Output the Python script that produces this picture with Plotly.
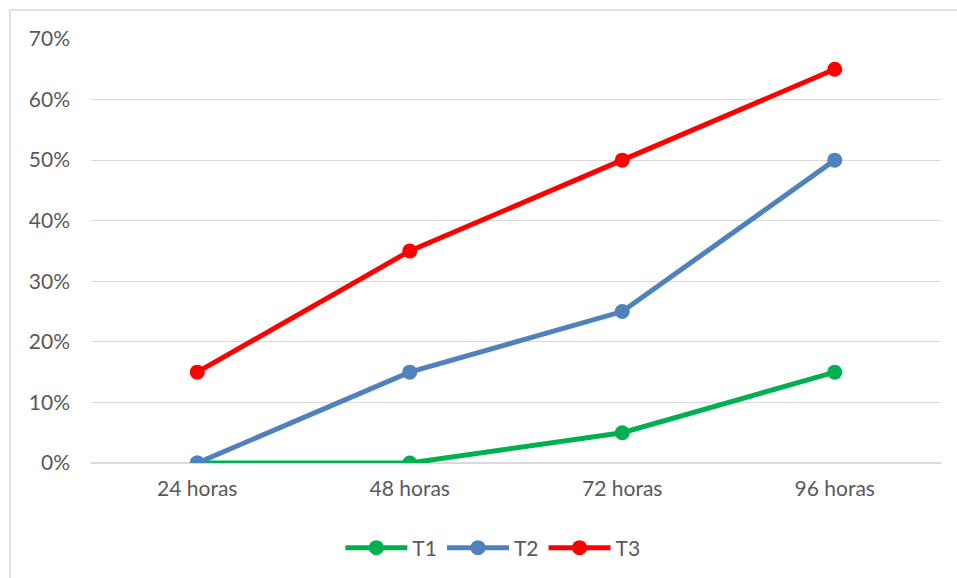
import plotly.graph_objects as go

categories = ["24 horas", "48 horas", "72 horas", "96 horas"]
t1 = [0.00, 0.00, 0.05, 0.15]
t2 = [0.00, 0.15, 0.25, 0.50]
t3 = [0.15, 0.35, 0.50, 0.65]
y_ticks = [0.0, 0.1, 0.2, 0.3, 0.4, 0.5, 0.6, 0.7]

series = [("T1", t1, "#00B050"), ("T2", t2, "#4F81BD"), ("T3", t3, "#FF0000")]

fig = go.Figure()
for name, vals, color in series:
    fig.add_trace(go.Scatter(
        x=categories, y=vals, name=name, mode="lines+markers",
        line=dict(color=color, width=5),
        marker=dict(color=color, size=15),
    ))

text_color = "#595959"
font_family = "Lato, 'Open Sans', sans-serif"
fig.update_layout(
    width=957, height=578,
    margin=dict(l=91, r=16, t=39, b=115, autoexpand=False),
    paper_bgcolor="white", plot_bgcolor="white",
    font=dict(family=font_family, size=21, color=text_color),
    showlegend=True,
    legend=dict(orientation="h", xref="container", yref="container",
                x=0.515, xanchor="center", y=1 - 548 / 578, yanchor="middle",
                font=dict(size=21, color=text_color), itemwidth=62,
                traceorder="normal"),
    xaxis=dict(range=[-0.5, 3.5], showgrid=False, zeroline=False, showline=False,
               ticks="", ticklabelstandoff=11, automargin=False,
               tickfont=dict(size=21, color=text_color)),
    yaxis=dict(range=[0, 0.7], tickvals=y_ticks, tickformat=".0%",
               showgrid=True, gridcolor="#D9D9D9", gridwidth=1,
               zeroline=True, zerolinecolor="#D9D9D9", zerolinewidth=1.5,
               showline=False, ticks="", automargin=False,
               ticklabelstandoff=20,
               tickfont=dict(size=21, color=text_color)),
)

# chart-area frame: left and top edges
x_left = (10 - 91) / 850
y_top = (463 - 10) / 424
fig.add_shape(type="line", xref="paper", yref="paper",
              x0=x_left, x1=x_left, y0=(463 - 580) / 424, y1=y_top,
              line=dict(color="#D9D9D9", width=1.5), layer="below")
fig.add_shape(type="line", xref="paper", yref="paper",
              x0=x_left, x1=(960 - 91) / 850, y0=y_top, y1=y_top,
              line=dict(color="#D9D9D9", width=1.5), layer="below")

fig.write_html("out.html")
